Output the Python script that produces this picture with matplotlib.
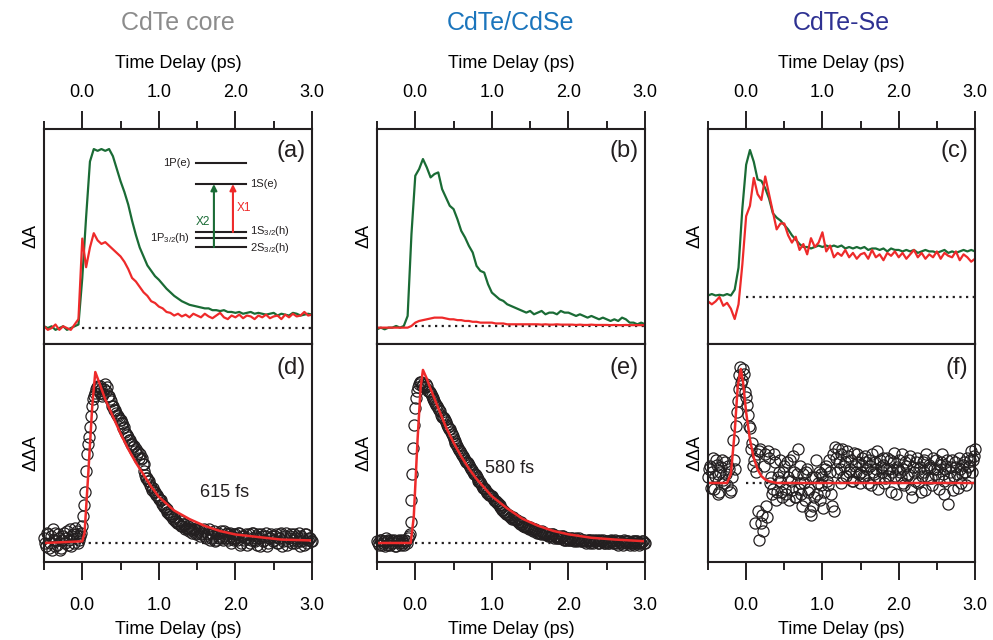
import numpy as np
import matplotlib
matplotlib.use("Agg")
from matplotlib import pyplot as plt
from matplotlib.ticker import FixedLocator, FormatStrFormatter

plt.rcParams['font.family'] = ['Liberation Sans', 'DejaVu Sans']
plt.rcParams['mathtext.default'] = 'regular'

GREEN = '#1a6b35'
RED = '#ee2a2a'
INK = '#231f20'

titles = ['CdTe core', 'CdTe/CdSe', 'CdTe-Se']
title_colors = ['#8c8c8c', '#1b75bc', '#2e3192']
top_tags = ['(a)', '(b)', '(c)']
bot_tags = ['(d)', '(e)', '(f)']
lifetimes = ['615 fs', '580 fs', None]

# transient traces, one value every 0.05 ps from -0.5 to 3.0 ps
green_a = [0.01, 0.0, 0.01, -0.01, 0.0, 0.01, -0.01, 0.0, 0.01, 0.02,
           0.28, 0.62, 0.93, 1.0, 0.99, 1.0, 0.99, 1.0, 0.96, 0.89,
           0.82, 0.76, 0.69, 0.60, 0.52, 0.45, 0.40, 0.35, 0.32, 0.29,
           0.27, 0.245, 0.22, 0.2, 0.18, 0.165, 0.15, 0.14, 0.13, 0.125,
           0.12, 0.115, 0.11, 0.11, 0.10, 0.10, 0.095, 0.10, 0.09, 0.09,
           0.085, 0.09, 0.08, 0.085, 0.09, 0.08, 0.085, 0.08, 0.075, 0.08,
           0.085, 0.07, 0.08, 0.075, 0.07, 0.085, 0.08, 0.07, 0.075, 0.08,
           0.075]
red_a = [0.01, -0.01, 0.0, 0.02, -0.01, 0.01, 0.0, -0.01, 0.02, 0.05,
         0.50, 0.34, 0.45, 0.53, 0.49, 0.47, 0.48, 0.46, 0.44, 0.42,
         0.40, 0.37, 0.33, 0.28, 0.26, 0.23, 0.20, 0.18, 0.15, 0.14,
         0.12, 0.11, 0.09, 0.085, 0.07, 0.08, 0.065, 0.075, 0.06, 0.08,
         0.07, 0.06, 0.08, 0.065, 0.055, 0.07, 0.085, 0.06, 0.05, 0.07,
         0.06, 0.075, 0.055, 0.07, 0.065, 0.05, 0.07, 0.06, 0.075, 0.055,
         0.065, 0.07, 0.05, 0.075, 0.06, 0.08, 0.065, 0.07, 0.09, 0.07,
         0.075]
green_b = [-0.02, -0.01, -0.02, -0.01, -0.01, 0.0, -0.01, 0.0, 0.06, 0.55,
           0.9, 0.94, 1.0, 0.95, 0.89, 0.91, 0.92, 0.82, 0.77, 0.72,
           0.70, 0.64, 0.57, 0.53, 0.48, 0.44, 0.36, 0.33, 0.32, 0.25,
           0.2, 0.18, 0.16, 0.15, 0.13, 0.12, 0.11, 0.10, 0.09, 0.08,
           0.09, 0.07, 0.08, 0.09, 0.07, 0.08, 0.08, 0.07, 0.09, 0.08,
           0.08, 0.07, 0.06, 0.07, 0.06, 0.05, 0.06, 0.05, 0.04, 0.05,
           0.04, 0.03, 0.04, 0.03, 0.05, 0.04, 0.02, 0.02, 0.01, 0.02,
           0.01]
red_b = [-0.01, -0.01, -0.01, -0.01, -0.01, -0.01, -0.01, -0.01, -0.01, 0.0,
         0.02, 0.03, 0.035, 0.04, 0.045, 0.05, 0.05, 0.05, 0.045, 0.04,
         0.04, 0.035, 0.035, 0.03, 0.03, 0.025, 0.025, 0.02, 0.02, 0.02,
         0.02, 0.015, 0.015, 0.015, 0.01, 0.01, 0.01, 0.01, 0.01, 0.01,
         0.01, 0.01, 0.01, 0.008, 0.01, 0.008, 0.008, 0.01, 0.008, 0.008,
         0.008, 0.008, 0.006, 0.008, 0.006, 0.006, 0.008, 0.006, 0.006, 0.006,
         0.006, 0.005, 0.006, 0.005, 0.005, 0.006, 0.005, 0.005, 0.005, 0.005,
         0.005]
green_c = [0.01, 0.02, 0.01, 0.015, 0.01, 0.02, 0.01, 0.05, 0.2, 0.6,
           0.9, 1.0, 0.92, 0.8, 0.79, 0.74, 0.67, 0.57, 0.54, 0.52,
           0.49, 0.46, 0.42, 0.39, 0.36, 0.34, 0.34, 0.33, 0.34, 0.35,
           0.34, 0.35, 0.34, 0.35, 0.34, 0.35, 0.33, 0.34, 0.33, 0.34,
           0.33, 0.34, 0.32, 0.33, 0.33, 0.32, 0.33, 0.31, 0.33, 0.32,
           0.32, 0.31, 0.32, 0.31, 0.32, 0.30, 0.31, 0.32, 0.31, 0.31,
           0.30, 0.31, 0.32, 0.30, 0.31, 0.30, 0.31, 0.32, 0.31, 0.32,
           0.31]
red_c = [-0.03, -0.05, -0.03, 0.0, -0.06, -0.04, -0.08, -0.15, -0.05, 0.22,
         0.55, 0.62, 0.81, 0.7, 0.66, 0.82, 0.7, 0.58, 0.46, 0.5,
         0.5, 0.42, 0.37, 0.41, 0.32, 0.36, 0.29, 0.4, 0.34, 0.37,
         0.44, 0.31, 0.35, 0.27, 0.3, 0.28, 0.32, 0.27, 0.3, 0.26,
         0.29, 0.3, 0.26, 0.32, 0.27, 0.29, 0.25, 0.3, 0.28, 0.31,
         0.27, 0.3, 0.26, 0.29, 0.32, 0.27, 0.3, 0.26, 0.29, 0.27,
         0.31, 0.26, 0.3, 0.28, 0.27, 0.31, 0.25, 0.29, 0.27, 0.24,
         0.26]

# differential signal, scan 1: one point every 0.025 ps from -0.5 to 3.0 ps
dd_d = [0.03, -0.02, 0.05, 0.0, -0.04, 0.02, 0.06, -0.01, 0.03, -0.03, 0.04, 0.0, 0.07, 0.02, -0.02, 0.05, 0.09, 0.03, 0.0, 0.04,
        0.1, 0.22, 0.42, 0.58, 0.68, 0.8, 0.86, 0.9, 0.92, 0.88, 0.9, 0.87, 0.93, 0.91, 0.86, 0.83, 0.8, 0.78, 0.75, 0.73,
        0.72, 0.7, 0.68, 0.64, 0.62, 0.6, 0.58, 0.57, 0.55, 0.53, 0.52, 0.5, 0.46, 0.4, 0.38, 0.36, 0.33, 0.32, 0.3, 0.28,
        0.26, 0.25, 0.22, 0.21, 0.2, 0.18, 0.17, 0.16, 0.15, 0.13, 0.12, 0.13, 0.1, 0.11, 0.09, 0.1, 0.08, 0.09, 0.07, 0.08,
        0.06, 0.08, 0.05, 0.07, 0.04, 0.06, 0.08, 0.03, 0.05, 0.07, 0.02, 0.06, 0.04, 0.03, 0.07, 0.05, 0.02, 0.06, 0.04, 0.03,
        0.05, 0.02, 0.06, 0.0, 0.04, 0.03, -0.01, 0.05, 0.02, 0.06, 0.01, 0.03, 0.05, -0.02, 0.04, 0.02, 0.06, 0.0, 0.03, 0.04,
        0.02, 0.05, 0.0, 0.03, 0.06, 0.01, 0.04, -0.01, 0.03, 0.05, 0.02, 0.0, 0.04, 0.06, 0.01, 0.03, -0.01, 0.05, 0.02, 0.03,
        0.01]
dd_e = [0.01, -0.01, 0.02, 0.0, -0.02, 0.01, 0.02, -0.01, 0.0, 0.02, -0.02, 0.01, 0.0, 0.02, -0.01, 0.01, 0.03, 0.05, 0.25, 0.55,
        0.78, 0.88, 0.92, 0.93, 0.92, 0.9, 0.91, 0.88, 0.86, 0.84, 0.82, 0.8, 0.78, 0.76, 0.73, 0.72, 0.7, 0.67, 0.66, 0.63,
        0.6, 0.58, 0.56, 0.54, 0.52, 0.5, 0.48, 0.47, 0.45, 0.43, 0.41, 0.4, 0.38, 0.36, 0.35, 0.33, 0.32, 0.3, 0.29, 0.28,
        0.27, 0.25, 0.24, 0.23, 0.22, 0.2, 0.19, 0.18, 0.17, 0.16, 0.15, 0.15, 0.14, 0.13, 0.12, 0.12, 0.11, 0.1, 0.1, 0.09,
        0.09, 0.08, 0.08, 0.07, 0.07, 0.06, 0.07, 0.05, 0.06, 0.05, 0.05, 0.04, 0.05, 0.04, 0.03, 0.04, 0.03, 0.04, 0.02, 0.03,
        0.03, 0.02, 0.03, 0.01, 0.03, 0.02, 0.02, 0.01, 0.02, 0.0, 0.02, 0.01, 0.02, 0.0, 0.01, 0.02, 0.0, 0.01, 0.02, 0.0,
        0.01, 0.0, 0.02, 0.01, 0.0, 0.01, -0.01, 0.01, 0.0, 0.02, 0.0, 0.01, -0.01, 0.0, 0.01, 0.0, 0.01, -0.01, 0.0, 0.01,
        0.0]
dd_f = [0.05, 0.15, 0.1, -0.05, 0.2, 0.08, -0.08, 0.14, 0.03, 0.18, -0.02, 0.12, -0.06, 0.38, 0.12, 0.62, 0.82, 1.02, 0.9, 0.96,
        0.75, 0.6, 0.48, 0.35, 0.2, 0.1, -0.25, 0.28, -0.35, -0.42, 0.25, -0.3, 0.22, 0.05, -0.05, 0.18, -0.08, 0.1, 0.02, -0.12,
        0.15, -0.1, 0.05, 0.2, -0.06, 0.1, -0.12, 0.3, 0.0, -0.1, 0.08, -0.15, 0.12, -0.05, -0.28, -0.2, 0.05, -0.1, 0.1, -0.02,
        0.05, -0.08, 0.15, -0.02, 0.1, -0.2, -0.25, 0.22, 0.3, 0.12, 0.25, 0.05, 0.18, 0.28, 0.1, 0.2, 0.02, 0.15, 0.25, 0.08,
        0.1, 0.22, 0.05, 0.18, 0.0, 0.15, 0.25, 0.08, 0.12, -0.05, 0.2, 0.1, 0.16, 0.04, 0.22, 0.12, -0.08, 0.18, 0.06, 0.14,
        0.2, 0.05, 0.12, -0.02, 0.15, 0.08, 0.24, -0.12, 0.1, 0.18, 0.0, 0.14, 0.06, 0.2, -0.06, 0.12, 0.16, 0.04, 0.22, 0.08,
        0.12, -0.05, 0.18, 0.08, 0.02, 0.15, -0.18, 0.1, 0.2, 0.06, 0.14, -0.04, 0.12, 0.08, 0.18, 0.1, 0.22, 0.15, 0.28, 0.2,
        0.3]

# scan 2: shifted half a step, -0.4875 to 2.9875 ps
dd_d2 = [0.0, 0.06, -0.03, 0.04, 0.08, -0.02, 0.01, 0.05, -0.04, 0.02, 0.06, 0.03, -0.01, 0.08, 0.04, 0.0, 0.05, 0.07, 0.02, 0.06,
         0.16, 0.3, 0.52, 0.62, 0.74, 0.84, 0.88, 0.91, 0.89, 0.92, 0.86, 0.9, 0.89, 0.86, 0.84, 0.8, 0.78, 0.76, 0.74, 0.72,
         0.7, 0.67, 0.65, 0.63, 0.6, 0.58, 0.56, 0.54, 0.52, 0.5, 0.49, 0.46, 0.42, 0.38, 0.36, 0.34, 0.31, 0.3, 0.28, 0.27,
         0.25, 0.23, 0.21, 0.2, 0.18, 0.17, 0.16, 0.14, 0.13, 0.12, 0.11, 0.1, 0.11, 0.08, 0.09, 0.07, 0.08, 0.06, 0.08, 0.05,
         0.07, 0.04, 0.06, 0.08, 0.03, 0.05, 0.02, 0.06, 0.04, 0.01, 0.05, 0.03, 0.07, 0.02, 0.04, 0.06, 0.03, 0.0, 0.05, 0.02,
         0.03, 0.06, -0.01, 0.04, 0.02, 0.05, 0.03, 0.0, 0.06, 0.02, 0.04, -0.01, 0.03, 0.05, 0.01, 0.04, -0.02, 0.03, 0.05, 0.01,
         0.04, 0.0, 0.03, 0.05, -0.02, 0.03, 0.06, 0.01, 0.04, 0.0, 0.05, 0.03, 0.01, -0.02, 0.04, 0.02, 0.05, 0.0, 0.03, 0.01]
dd_e2 = [0.0, 0.02, -0.01, 0.01, 0.03, -0.01, 0.0, 0.02, 0.01, -0.02, 0.01, 0.02, -0.01, 0.0, 0.02, 0.0, 0.04, 0.12, 0.4, 0.68,
         0.84, 0.9, 0.93, 0.91, 0.9, 0.92, 0.88, 0.87, 0.85, 0.83, 0.81, 0.79, 0.77, 0.74, 0.73, 0.71, 0.68, 0.66, 0.64, 0.62,
         0.59, 0.57, 0.55, 0.53, 0.51, 0.49, 0.47, 0.46, 0.44, 0.42, 0.4, 0.39, 0.37, 0.35, 0.34, 0.32, 0.31, 0.29, 0.28, 0.27,
         0.26, 0.24, 0.23, 0.22, 0.21, 0.19, 0.18, 0.17, 0.16, 0.15, 0.14, 0.14, 0.13, 0.12, 0.11, 0.11, 0.1, 0.09, 0.09, 0.08,
         0.08, 0.07, 0.08, 0.06, 0.06, 0.05, 0.06, 0.05, 0.05, 0.04, 0.04, 0.05, 0.03, 0.04, 0.03, 0.03, 0.04, 0.02, 0.03, 0.02,
         0.02, 0.03, 0.02, 0.02, 0.01, 0.03, 0.01, 0.02, 0.01, 0.01, 0.02, 0.0, 0.01, 0.02, 0.01, 0.0, 0.02, 0.01, 0.0, 0.01,
         0.0, 0.01, 0.01, 0.0, 0.02, 0.0, 0.01, 0.0, -0.01, 0.01, 0.01, 0.0, 0.0, 0.01, -0.01, 0.01, 0.0, 0.0, 0.01, 0.0]
dd_f2 = [0.12, -0.04, 0.22, 0.06, 0.16, -0.1, 0.1, 0.2, 0.0, 0.08, 0.15, -0.08, 0.05, 0.2, 0.5, 0.72, 0.95, 0.88, 1.0, 0.8,
         0.68, 0.5, 0.3, 0.15, -0.35, 0.25, -0.5, 0.3, -0.28, 0.15, -0.2, 0.28, 0.0, -0.1, 0.25, -0.15, 0.05, 0.2, -0.08, 0.1,
         -0.05, 0.18, -0.15, 0.02, 0.24, -0.12, 0.08, -0.05, 0.15, -0.2, 0.0, 0.1, -0.08, -0.25, 0.05, -0.12, 0.2, 0.0, -0.15, 0.08,
         -0.22, 0.12, 0.02, 0.2, -0.1, 0.25, 0.32, 0.1, 0.18, 0.0, 0.3, 0.15, 0.06, 0.24, 0.12, 0.02, 0.26, 0.1, 0.18, 0.0,
         0.16, 0.06, 0.24, 0.12, 0.2, -0.02, 0.1, 0.18, 0.28, 0.04, 0.14, 0.22, 0.0, 0.12, 0.06, 0.2, 0.1, 0.26, -0.1, 0.12,
         0.1, 0.25, 0.0, 0.18, 0.06, 0.2, -0.05, 0.14, 0.02, 0.22, 0.12, -0.08, 0.18, 0.1, 0.25, 0.04, 0.14, -0.02, 0.12, 0.2,
         0.05, 0.16, 0.25, -0.1, 0.12, 0.2, 0.04, 0.14, -0.06, 0.18, 0.08, 0.22, 0.0, 0.16, 0.1, -0.02, 0.14, 0.2, 0.1, 0.24]

# fitted curves (time in ps, amplitude)
fit_d_t = [-0.5, 0.0, 0.03, 0.08, 0.13, 0.17, 0.22, 0.3, 0.4, 0.5, 0.6, 0.7, 0.8, 0.9, 1.0, 1.2, 1.4, 1.6, 1.8, 2.0, 2.3, 2.6, 3.0]
fit_d_y = [0.0, 0.01, 0.06, 0.42, 0.8, 1.0, 0.94, 0.84, 0.74, 0.64, 0.55, 0.47, 0.4, 0.33, 0.27, 0.19, 0.14, 0.1, 0.07, 0.05, 0.035, 0.02, 0.015]
fit_e_t = [-0.5, -0.06, -0.02, 0.03, 0.07, 0.1, 0.15, 0.2, 0.3, 0.4, 0.5, 0.6, 0.7, 0.8, 0.9, 1.0, 1.2, 1.4, 1.6, 1.8, 2.0, 2.3, 2.6, 3.0]
fit_e_y = [0.0, 0.0, 0.15, 0.6, 0.9, 1.0, 0.95, 0.89, 0.78, 0.67, 0.58, 0.5, 0.43, 0.37, 0.32, 0.27, 0.2, 0.14, 0.1, 0.07, 0.05, 0.03, 0.02, 0.01]
fit_f_t = [-0.5, -0.25, -0.2, -0.15, -0.11, -0.07, -0.04, 0.0, 0.05, 0.1, 0.15, 0.2, 0.25, 0.3, 0.4, 3.0]
fit_f_y = [0.0, 0.0, 0.08, 0.45, 0.85, 1.0, 0.88, 0.62, 0.38, 0.22, 0.12, 0.06, 0.03, 0.015, 0.0, 0.0]

top_ylims = [(-0.089, 1.112), (-0.108, 1.18), (-0.32, 1.143)]
bot_ylims = [(-0.111, 1.164), (-0.11, 1.15), (-0.693, 1.219)]

W, H = 993, 640
col_left = [44, 377, 708]
col_width = [268, 268, 267]


def style_axis(ax, top):
    ax.set_xlim(-0.5, 3.0)
    ax.xaxis.set_major_locator(FixedLocator([0, 1, 2, 3]))
    ax.xaxis.set_minor_locator(FixedLocator([-0.5, 0.5, 1.5, 2.5]))
    ax.xaxis.set_major_formatter(FormatStrFormatter('%.1f'))
    ax.set_yticks([])
    for s in ax.spines.values():
        s.set_linewidth(1.5)
        s.set_color(INK)
    ax.tick_params(axis='x', which='major', length=13, width=1.4, color=INK,
                   labelsize=13, pad=7 if top else 12.5)
    ax.tick_params(axis='x', which='minor', length=6, width=1.4, color=INK)
    ax.tick_params(axis='x', which='both', direction='out',
                   top=top, bottom=not top, labeltop=top, labelbottom=not top)
    if top:
        ax.xaxis.set_label_position('top')
    ax.set_xlabel('Time Delay (ps)', fontsize=13, labelpad=11.5 if top else 5)


fig = plt.figure(figsize=(W / 100, H / 100), dpi=100)

t_trace = np.linspace(-0.5, 3.0, len(green_a))
greens = [green_a, green_b, green_c]
reds = [red_a, red_b, red_c]
scans = [(dd_d, dd_d2), (dd_e, dd_e2), (dd_f, dd_f2)]
fits = [(fit_d_t, fit_d_y), (fit_e_t, fit_e_y), (fit_f_t, fit_f_y)]

for i in range(3):
    l = col_left[i] / W
    w = col_width[i] / W
    ax1 = fig.add_axes([l, 1 - 344 / H, w, 215 / H])
    ax2 = fig.add_axes([l, 1 - 562 / H, w, 218 / H])

    # top: transient absorption
    ax1.plot([0, 3.0], [0, 0], color=INK, lw=1.6, ls=(0, (1, 2)))
    ax1.plot(t_trace, greens[i], color=GREEN, lw=1.6)
    ax1.plot(t_trace, reds[i], color=RED, lw=1.6)
    ax1.set_ylim(*top_ylims[i])
    style_axis(ax1, True)
    ax1.set_ylabel('ΔA', fontsize=13, labelpad=3)
    ax1.text(0.975, 0.9, top_tags[i], transform=ax1.transAxes, ha='right',
             va='center', fontsize=17, color=INK)

    # bottom: difference + fit
    s1, s2 = scans[i]
    t1 = np.linspace(-0.5, 3.0, len(s1))
    t2 = np.linspace(-0.4875, 2.9875, len(s2))
    ax2.plot([0, 3.0], [0, 0], color=INK, lw=1.6, ls=(0, (1, 2)))
    ax2.plot(t1, s1, 'o', mfc='none', mec=INK, ms=8, mew=0.9, clip_on=False)
    ax2.plot(t2, s2, 'o', mfc='none', mec=INK, ms=8, mew=0.9, clip_on=False)
    ax2.plot(fits[i][0], fits[i][1], color=RED, lw=1.8)
    ax2.set_ylim(*bot_ylims[i])
    style_axis(ax2, False)
    ax2.set_ylabel('ΔΔA', fontsize=13, labelpad=3)
    ax2.text(0.975, 0.89, bot_tags[i], transform=ax2.transAxes, ha='right',
             va='center', fontsize=17, color=INK)

    fig.text(l + w / 2, 1 - 23 / H, titles[i], color=title_colors[i],
             ha='center', va='center', fontsize=18)

    if i == 0:
        ax2.text(0.675, 0.321, lifetimes[0], transform=ax2.transAxes,
                 ha='center', va='center', fontsize=13, color=INK)
        # energy level sketch
        levels = [0.842, 0.744, 0.521, 0.493, 0.451]
        for y in levels:
            ax1.plot([0.567, 0.754], [y, y], color=INK, lw=1.5,
                     transform=ax1.transAxes)
        ax1.annotate('', xy=(0.634, 0.744), xytext=(0.634, 0.451),
                     xycoords='axes fraction',
                     arrowprops=dict(arrowstyle='-|>', color=GREEN, lw=1.5,
                                     mutation_scale=9, shrinkA=0, shrinkB=0))
        ax1.annotate('', xy=(0.705, 0.744), xytext=(0.705, 0.521),
                     xycoords='axes fraction',
                     arrowprops=dict(arrowstyle='-|>', color=RED, lw=1.5,
                                     mutation_scale=9, shrinkA=0, shrinkB=0))
        fs = 8
        ax1.text(0.545, 0.842, '1P(e)', transform=ax1.transAxes, ha='right', va='center', fontsize=fs, color=INK)
        ax1.text(0.769, 0.744, '1S(e)', transform=ax1.transAxes, ha='left', va='center', fontsize=fs, color=INK)
        ax1.text(0.769, 0.527, '1S$_{3/2}$(h)', transform=ax1.transAxes, ha='left', va='center', fontsize=fs, color=INK)
        ax1.text(0.769, 0.448, '2S$_{3/2}$(h)', transform=ax1.transAxes, ha='left', va='center', fontsize=fs, color=INK)
        ax1.text(0.545, 0.493, '1P$_{3/2}$(h)', transform=ax1.transAxes, ha='right', va='center', fontsize=fs, color=INK)
        ax1.text(0.619, 0.567, 'X2', transform=ax1.transAxes, ha='right', va='center', fontsize=fs + 0.5, color=GREEN)
        ax1.text(0.72, 0.633, 'X1', transform=ax1.transAxes, ha='left', va='center', fontsize=fs + 0.5, color=RED)
    elif i == 1:
        ax2.text(0.496, 0.431, lifetimes[1], transform=ax2.transAxes,
                 ha='center', va='center', fontsize=13, color=INK)

fig.savefig('out.png', dpi=100)
